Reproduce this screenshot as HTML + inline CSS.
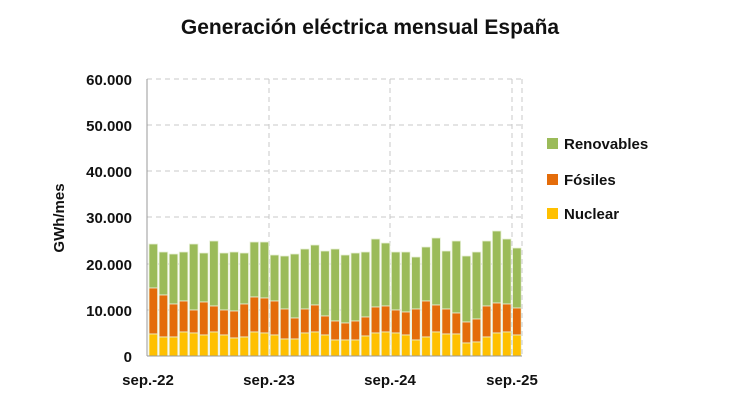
<!DOCTYPE html>
<html><head><meta charset="utf-8"><style>body{margin:0;background:#fff}svg{display:block}text{font-family:"Liberation Sans",sans-serif;fill:#111}</style></head><body>
<svg width="750" height="400" viewBox="0 0 750 400">
<text x="370" y="34" text-anchor="middle" font-size="21" font-weight="bold">Generación eléctrica mensual España</text>
<g stroke="#c8c8c8" stroke-dasharray="5,4" stroke-width="1">
<line x1="147" y1="79" x2="522" y2="79"/><line x1="147" y1="125" x2="522" y2="125"/><line x1="147" y1="171" x2="522" y2="171"/><line x1="147" y1="217" x2="522" y2="217"/><line x1="147" y1="264" x2="522" y2="264"/><line x1="147" y1="310" x2="522" y2="310"/>
<line x1="269" y1="79" x2="269" y2="356"/><line x1="390" y1="79" x2="390" y2="356"/><line x1="512" y1="79" x2="512" y2="356"/><line x1="522" y1="79" x2="522" y2="356"/>
</g>
<line x1="147" y1="79" x2="147" y2="356" stroke="#999"/>
<g id="bars" stroke="#e8f0d8" stroke-width="0.8"></g>
<line x1="147" y1="356" x2="522" y2="356" stroke="#999"/>
<g font-size="15" font-weight="bold" text-anchor="end">
<text x="132" y="85">60.000</text><text x="132" y="131">50.000</text><text x="132" y="177">40.000</text><text x="132" y="223">30.000</text><text x="132" y="270">20.000</text><text x="132" y="316">10.000</text><text x="132" y="362">0</text>
</g>
<text transform="translate(64,218) rotate(-90)" text-anchor="middle" font-size="15" font-weight="bold">GWh/mes</text>
<g font-size="15" font-weight="bold" text-anchor="middle">
<text x="148" y="385">sep.-22</text><text x="269" y="385">sep.-23</text><text x="390" y="385">sep.-24</text><text x="512" y="385">sep.-25</text>
</g>
<rect x="547" y="138" width="11" height="11" fill="#9BBB59"/><text x="564" y="149" font-size="15" font-weight="bold">Renovables</text>
<rect x="547" y="174" width="11" height="11" fill="#E46C0A"/><text x="564" y="185" font-size="15" font-weight="bold">Fósiles</text>
<rect x="547" y="208" width="11" height="11" fill="#FFC000"/><text x="564" y="219" font-size="15" font-weight="bold">Nuclear</text>
</svg>
<script>
var d=[[244,288,334],[252,295,337],[254,304,337],[252,301,332],[244,310,333],[253,302,335],[241,306,332],[253,310,335],[252,311,338],[253,304,337],[242,297,332],[242,298,333],[255,301,335],[256,309,339],[254,318,339],[249,309,333],[245,305,332],[251,316,335],[249,321,340],[255,323,340],[253,321,340],[252,317,336],[239,307,333],[243,306,332],[252,310,333],[252,312,335],[257,309,340],[247,301,337],[238,305,332],[251,309,334],[241,313,334],[256,322,343],[252,319,342],[241,306,337],[231,303,333],[239,304,332],[248,308,335]];
var g=document.getElementById('bars'),s='';
d.forEach(function(b,i){var x=(149+10.1*i).toFixed(1),w=8.6;
s+='<rect x="'+x+'" y="'+b[0]+'" width="'+w+'" height="'+(b[1]-b[0])+'" fill="#9BBB59"/>';
s+='<rect x="'+x+'" y="'+b[1]+'" width="'+w+'" height="'+(b[2]-b[1])+'" fill="#E46C0A"/>';
s+='<rect x="'+x+'" y="'+b[2]+'" width="'+w+'" height="'+(356-b[2])+'" fill="#FFC000"/>';});
g.innerHTML=s;
</script>
</body></html>
